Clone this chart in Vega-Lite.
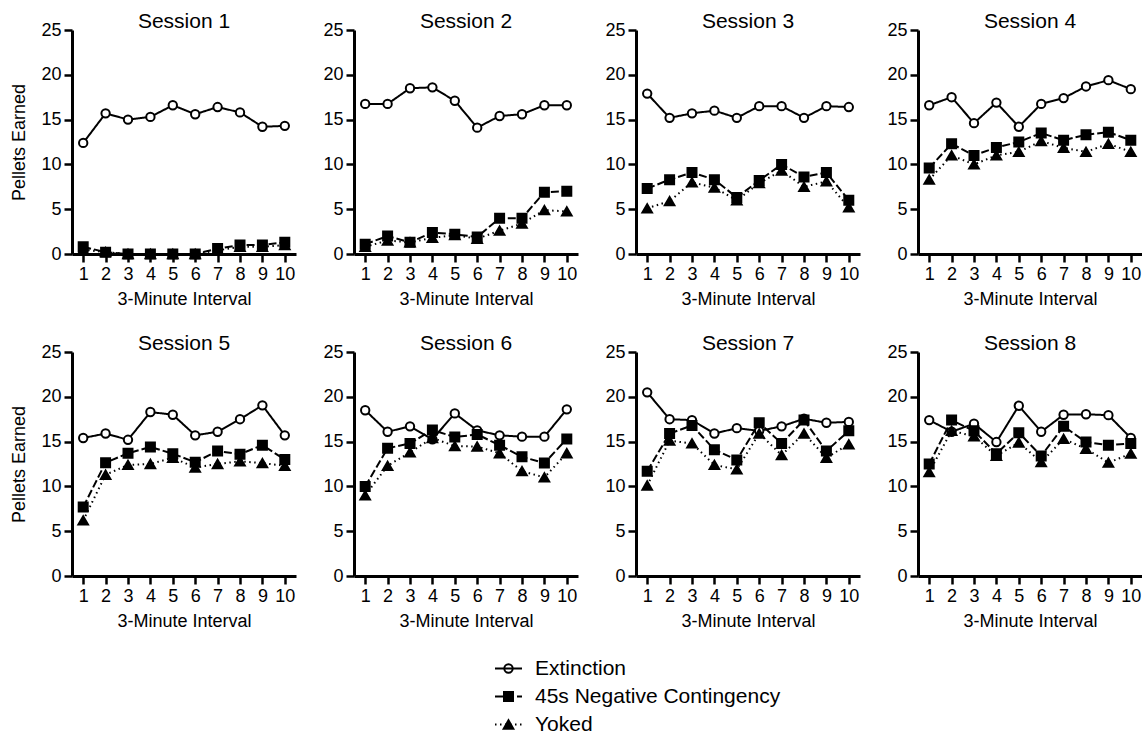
{
  "$schema": "https://vega.github.io/schema/vega-lite/v6.json",
  "background": "white",
  "padding": {"left": 10, "top": 11, "right": 0, "bottom": 0},
  "datasets": {
    "d": [
      {"session":1,"interval":1,"Extinction":12.4,"45s Negative Contingency":0.8,"Yoked":0.5},
      {"session":1,"interval":2,"Extinction":15.7,"45s Negative Contingency":0.2,"Yoked":0.2},
      {"session":1,"interval":3,"Extinction":15.0,"45s Negative Contingency":0,"Yoked":0},
      {"session":1,"interval":4,"Extinction":15.3,"45s Negative Contingency":0,"Yoked":0},
      {"session":1,"interval":5,"Extinction":16.6,"45s Negative Contingency":0,"Yoked":0},
      {"session":1,"interval":6,"Extinction":15.6,"45s Negative Contingency":0,"Yoked":0},
      {"session":1,"interval":7,"Extinction":16.4,"45s Negative Contingency":0.6,"Yoked":0.4},
      {"session":1,"interval":8,"Extinction":15.8,"45s Negative Contingency":1.0,"Yoked":0.8},
      {"session":1,"interval":9,"Extinction":14.2,"45s Negative Contingency":1.0,"Yoked":0.8},
      {"session":1,"interval":10,"Extinction":14.3,"45s Negative Contingency":1.3,"Yoked":1.0},
      {"session":2,"interval":1,"Extinction":16.75,"45s Negative Contingency":1.1,"Yoked":0.8},
      {"session":2,"interval":2,"Extinction":16.75,"45s Negative Contingency":2.0,"Yoked":1.5},
      {"session":2,"interval":3,"Extinction":18.5,"45s Negative Contingency":1.3,"Yoked":1.3},
      {"session":2,"interval":4,"Extinction":18.6,"45s Negative Contingency":2.4,"Yoked":1.8},
      {"session":2,"interval":5,"Extinction":17.1,"45s Negative Contingency":2.2,"Yoked":2.1},
      {"session":2,"interval":6,"Extinction":14.1,"45s Negative Contingency":1.9,"Yoked":1.7},
      {"session":2,"interval":7,"Extinction":15.4,"45s Negative Contingency":4.0,"Yoked":2.6},
      {"session":2,"interval":8,"Extinction":15.6,"45s Negative Contingency":4.0,"Yoked":3.4},
      {"session":2,"interval":9,"Extinction":16.6,"45s Negative Contingency":6.9,"Yoked":4.9},
      {"session":2,"interval":10,"Extinction":16.6,"45s Negative Contingency":7.0,"Yoked":4.75},
      {"session":3,"interval":1,"Extinction":17.9,"45s Negative Contingency":7.3,"Yoked":5.1},
      {"session":3,"interval":2,"Extinction":15.2,"45s Negative Contingency":8.3,"Yoked":5.9},
      {"session":3,"interval":3,"Extinction":15.7,"45s Negative Contingency":9.1,"Yoked":8.0},
      {"session":3,"interval":4,"Extinction":16.0,"45s Negative Contingency":8.3,"Yoked":7.4},
      {"session":3,"interval":5,"Extinction":15.2,"45s Negative Contingency":6.3,"Yoked":6.0},
      {"session":3,"interval":6,"Extinction":16.5,"45s Negative Contingency":8.2,"Yoked":7.9},
      {"session":3,"interval":7,"Extinction":16.5,"45s Negative Contingency":10.0,"Yoked":9.3},
      {"session":3,"interval":8,"Extinction":15.2,"45s Negative Contingency":8.6,"Yoked":7.5},
      {"session":3,"interval":9,"Extinction":16.5,"45s Negative Contingency":9.1,"Yoked":8.1},
      {"session":3,"interval":10,"Extinction":16.4,"45s Negative Contingency":6.0,"Yoked":5.2},
      {"session":4,"interval":1,"Extinction":16.6,"45s Negative Contingency":9.6,"Yoked":8.3},
      {"session":4,"interval":2,"Extinction":17.5,"45s Negative Contingency":12.3,"Yoked":11.0},
      {"session":4,"interval":3,"Extinction":14.6,"45s Negative Contingency":11.0,"Yoked":10.0},
      {"session":4,"interval":4,"Extinction":16.9,"45s Negative Contingency":11.9,"Yoked":11.0},
      {"session":4,"interval":5,"Extinction":14.2,"45s Negative Contingency":12.5,"Yoked":11.4},
      {"session":4,"interval":6,"Extinction":16.75,"45s Negative Contingency":13.5,"Yoked":12.6},
      {"session":4,"interval":7,"Extinction":17.4,"45s Negative Contingency":12.7,"Yoked":11.85},
      {"session":4,"interval":8,"Extinction":18.7,"45s Negative Contingency":13.3,"Yoked":11.4},
      {"session":4,"interval":9,"Extinction":19.4,"45s Negative Contingency":13.6,"Yoked":12.3},
      {"session":4,"interval":10,"Extinction":18.4,"45s Negative Contingency":12.7,"Yoked":11.4},
      {"session":5,"interval":1,"Extinction":15.4,"45s Negative Contingency":7.7,"Yoked":6.2},
      {"session":5,"interval":2,"Extinction":15.9,"45s Negative Contingency":12.65,"Yoked":11.3},
      {"session":5,"interval":3,"Extinction":15.2,"45s Negative Contingency":13.7,"Yoked":12.4},
      {"session":5,"interval":4,"Extinction":18.3,"45s Negative Contingency":14.4,"Yoked":12.5},
      {"session":5,"interval":5,"Extinction":18.0,"45s Negative Contingency":13.65,"Yoked":13.2},
      {"session":5,"interval":6,"Extinction":15.7,"45s Negative Contingency":12.7,"Yoked":12.1},
      {"session":5,"interval":7,"Extinction":16.1,"45s Negative Contingency":13.95,"Yoked":12.5},
      {"session":5,"interval":8,"Extinction":17.5,"45s Negative Contingency":13.6,"Yoked":12.8},
      {"session":5,"interval":9,"Extinction":19.05,"45s Negative Contingency":14.6,"Yoked":12.6},
      {"session":5,"interval":10,"Extinction":15.7,"45s Negative Contingency":13.0,"Yoked":12.3},
      {"session":6,"interval":1,"Extinction":18.5,"45s Negative Contingency":10.0,"Yoked":9.0},
      {"session":6,"interval":2,"Extinction":16.1,"45s Negative Contingency":14.25,"Yoked":12.3},
      {"session":6,"interval":3,"Extinction":16.7,"45s Negative Contingency":14.8,"Yoked":13.8},
      {"session":6,"interval":4,"Extinction":15.25,"45s Negative Contingency":16.3,"Yoked":15.4},
      {"session":6,"interval":5,"Extinction":18.15,"45s Negative Contingency":15.5,"Yoked":14.5},
      {"session":6,"interval":6,"Extinction":16.25,"45s Negative Contingency":15.8,"Yoked":14.45},
      {"session":6,"interval":7,"Extinction":15.7,"45s Negative Contingency":14.6,"Yoked":13.7},
      {"session":6,"interval":8,"Extinction":15.55,"45s Negative Contingency":13.3,"Yoked":11.7},
      {"session":6,"interval":9,"Extinction":15.55,"45s Negative Contingency":12.6,"Yoked":11.0},
      {"session":6,"interval":10,"Extinction":18.6,"45s Negative Contingency":15.3,"Yoked":13.7},
      {"session":7,"interval":1,"Extinction":20.5,"45s Negative Contingency":11.7,"Yoked":10.1},
      {"session":7,"interval":2,"Extinction":17.5,"45s Negative Contingency":15.9,"Yoked":15.1},
      {"session":7,"interval":3,"Extinction":17.4,"45s Negative Contingency":16.8,"Yoked":14.8},
      {"session":7,"interval":4,"Extinction":15.9,"45s Negative Contingency":14.1,"Yoked":12.4},
      {"session":7,"interval":5,"Extinction":16.5,"45s Negative Contingency":12.95,"Yoked":11.9},
      {"session":7,"interval":6,"Extinction":16.2,"45s Negative Contingency":17.1,"Yoked":15.9},
      {"session":7,"interval":7,"Extinction":16.7,"45s Negative Contingency":14.8,"Yoked":13.5},
      {"session":7,"interval":8,"Extinction":17.55,"45s Negative Contingency":17.4,"Yoked":15.9},
      {"session":7,"interval":9,"Extinction":17.1,"45s Negative Contingency":13.95,"Yoked":13.2},
      {"session":7,"interval":10,"Extinction":17.2,"45s Negative Contingency":16.2,"Yoked":14.7},
      {"session":8,"interval":1,"Extinction":17.4,"45s Negative Contingency":12.5,"Yoked":11.6},
      {"session":8,"interval":2,"Extinction":16.1,"45s Negative Contingency":17.4,"Yoked":16.2},
      {"session":8,"interval":3,"Extinction":17.0,"45s Negative Contingency":16.2,"Yoked":15.6},
      {"session":8,"interval":4,"Extinction":14.95,"45s Negative Contingency":13.65,"Yoked":13.4},
      {"session":8,"interval":5,"Extinction":19.0,"45s Negative Contingency":16.0,"Yoked":14.9},
      {"session":8,"interval":6,"Extinction":16.1,"45s Negative Contingency":13.4,"Yoked":12.7},
      {"session":8,"interval":7,"Extinction":18.0,"45s Negative Contingency":16.7,"Yoked":15.3},
      {"session":8,"interval":8,"Extinction":18.05,"45s Negative Contingency":14.95,"Yoked":14.2},
      {"session":8,"interval":9,"Extinction":17.95,"45s Negative Contingency":14.6,"Yoked":12.65},
      {"session":8,"interval":10,"Extinction":15.4,"45s Negative Contingency":14.8,"Yoked":13.65}
    ]
  },
  "data": {"name": "d"},
  "transform": [
    {"fold": ["Extinction", "45s Negative Contingency", "Yoked"], "as": ["group", "pellets"]}
  ],
  "columns": 4,
  "spacing": {"row": 98, "column": 58},
  "bounds": "flush",
  "concat": [
    {"title": "Session 1", "width": 224, "height": 224, "transform": [{"filter": "datum.session == 1"}],
     "encoding": {
       "x": {"field": "interval", "type": "quantitative", "scale": {"domain": [0.5, 10.5], "nice": false, "zero": false}, "axis": {"values": [1,2,3,4,5,6,7,8,9,10], "title": "3-Minute Interval"}},
       "y": {"field": "pellets", "type": "quantitative", "scale": {"domain": [0, 25], "nice": false}, "axis": {"values": [0,5,10,15,20,25], "title": "Pellets Earned"}}
     },
     "layer": [
       {"mark": {"type": "line", "color": "black", "strokeWidth": 2},
        "encoding": {"strokeDash": {"field": "group", "type": "nominal", "sort": ["Extinction", "45s Negative Contingency", "Yoked"], "scale": {"range": [[1, 0], [8, 3], [1.5, 3.5]]},
          "legend": {"orient": "none", "legendX": 426, "legendY": 628, "title": null, "symbolType": "M-2.7,0H2.7", "symbolSize": 100, "symbolStrokeWidth": 2, "symbolStrokeColor": "black", "labelFontSize": 21, "labelFont": "Liberation Sans", "labelColor": "black", "labelOffset": 16, "labelLimit": 500, "rowPadding": 6, "zindex": 2}}}},
       {"mark": {"type": "point", "filled": true, "strokeWidth": 2, "opacity": 1},
        "encoding": {
          "shape": {"field": "group", "type": "nominal", "scale": {"domain": ["Extinction", "45s Negative Contingency", "Yoked"], "range": ["circle", "square", "triangle-up"]},
            "legend": {"orient": "none", "legendX": 426, "legendY": 628, "title": null, "symbolStrokeWidth": 2, "labelFontSize": 21, "labelFont": "Liberation Sans", "labelOpacity": 0, "labelOffset": 16, "labelLimit": 500, "rowPadding": 6, "zindex": 1}},
          "fill": {"field": "group", "type": "nominal", "scale": {"domain": ["Extinction", "45s Negative Contingency", "Yoked"], "range": ["white", "black", "black"]},
            "legend": {"orient": "none", "legendX": 426, "legendY": 628, "title": null, "symbolStrokeWidth": 2, "labelFontSize": 21, "labelFont": "Liberation Sans", "labelOpacity": 0, "labelOffset": 16, "labelLimit": 500, "rowPadding": 6, "zindex": 1}},
          "stroke": {"field": "group", "type": "nominal", "scale": {"domain": ["Extinction", "45s Negative Contingency", "Yoked"], "range": ["black", "black", "black"]},
            "legend": {"orient": "none", "legendX": 426, "legendY": 628, "title": null, "symbolStrokeWidth": 2, "labelFontSize": 21, "labelFont": "Liberation Sans", "labelOpacity": 0, "labelOffset": 16, "labelLimit": 500, "rowPadding": 6, "zindex": 1}},
          "size": {"field": "group", "type": "nominal", "scale": {"domain": ["Extinction", "45s Negative Contingency", "Yoked"], "range": [70, 92, 100]},
            "legend": {"orient": "none", "legendX": 426, "legendY": 628, "title": null, "symbolStrokeWidth": 2, "labelFontSize": 21, "labelFont": "Liberation Sans", "labelOpacity": 0, "labelOffset": 16, "labelLimit": 500, "rowPadding": 6, "zindex": 1}}
        }}
     ]},
    {"title": "Session 2", "width": 224, "height": 224, "transform": [{"filter": "datum.session == 2"}],
     "encoding": {
       "x": {"field": "interval", "type": "quantitative", "scale": {"domain": [0.5, 10.5], "nice": false, "zero": false}, "axis": {"values": [1,2,3,4,5,6,7,8,9,10], "title": "3-Minute Interval"}},
       "y": {"field": "pellets", "type": "quantitative", "scale": {"domain": [0, 25], "nice": false}, "axis": {"values": [0,5,10,15,20,25], "title": null}}
     },
     "layer": [
       {"mark": {"type": "line", "color": "black", "strokeWidth": 2}, "encoding": {"strokeDash": {"field": "group", "type": "nominal", "sort": ["Extinction", "45s Negative Contingency", "Yoked"]}}},
       {"mark": {"type": "point", "filled": true, "strokeWidth": 2, "opacity": 1},
        "encoding": {"shape": {"field": "group", "type": "nominal"}, "fill": {"field": "group", "type": "nominal"}, "stroke": {"field": "group", "type": "nominal"}, "size": {"field": "group", "type": "nominal"}}}
     ]},
    {"title": "Session 3", "width": 224, "height": 224, "transform": [{"filter": "datum.session == 3"}],
     "encoding": {
       "x": {"field": "interval", "type": "quantitative", "scale": {"domain": [0.5, 10.5], "nice": false, "zero": false}, "axis": {"values": [1,2,3,4,5,6,7,8,9,10], "title": "3-Minute Interval"}},
       "y": {"field": "pellets", "type": "quantitative", "scale": {"domain": [0, 25], "nice": false}, "axis": {"values": [0,5,10,15,20,25], "title": null}}
     },
     "layer": [
       {"mark": {"type": "line", "color": "black", "strokeWidth": 2}, "encoding": {"strokeDash": {"field": "group", "type": "nominal", "sort": ["Extinction", "45s Negative Contingency", "Yoked"]}}},
       {"mark": {"type": "point", "filled": true, "strokeWidth": 2, "opacity": 1},
        "encoding": {"shape": {"field": "group", "type": "nominal"}, "fill": {"field": "group", "type": "nominal"}, "stroke": {"field": "group", "type": "nominal"}, "size": {"field": "group", "type": "nominal"}}}
     ]},
    {"title": "Session 4", "width": 224, "height": 224, "transform": [{"filter": "datum.session == 4"}],
     "encoding": {
       "x": {"field": "interval", "type": "quantitative", "scale": {"domain": [0.5, 10.5], "nice": false, "zero": false}, "axis": {"values": [1,2,3,4,5,6,7,8,9,10], "title": "3-Minute Interval"}},
       "y": {"field": "pellets", "type": "quantitative", "scale": {"domain": [0, 25], "nice": false}, "axis": {"values": [0,5,10,15,20,25], "title": null}}
     },
     "layer": [
       {"mark": {"type": "line", "color": "black", "strokeWidth": 2}, "encoding": {"strokeDash": {"field": "group", "type": "nominal", "sort": ["Extinction", "45s Negative Contingency", "Yoked"]}}},
       {"mark": {"type": "point", "filled": true, "strokeWidth": 2, "opacity": 1},
        "encoding": {"shape": {"field": "group", "type": "nominal"}, "fill": {"field": "group", "type": "nominal"}, "stroke": {"field": "group", "type": "nominal"}, "size": {"field": "group", "type": "nominal"}}}
     ]},
    {"title": "Session 5", "width": 224, "height": 224, "transform": [{"filter": "datum.session == 5"}],
     "encoding": {
       "x": {"field": "interval", "type": "quantitative", "scale": {"domain": [0.5, 10.5], "nice": false, "zero": false}, "axis": {"values": [1,2,3,4,5,6,7,8,9,10], "title": "3-Minute Interval"}},
       "y": {"field": "pellets", "type": "quantitative", "scale": {"domain": [0, 25], "nice": false}, "axis": {"values": [0,5,10,15,20,25], "title": "Pellets Earned"}}
     },
     "layer": [
       {"mark": {"type": "line", "color": "black", "strokeWidth": 2}, "encoding": {"strokeDash": {"field": "group", "type": "nominal", "sort": ["Extinction", "45s Negative Contingency", "Yoked"]}}},
       {"mark": {"type": "point", "filled": true, "strokeWidth": 2, "opacity": 1},
        "encoding": {"shape": {"field": "group", "type": "nominal"}, "fill": {"field": "group", "type": "nominal"}, "stroke": {"field": "group", "type": "nominal"}, "size": {"field": "group", "type": "nominal"}}}
     ]},
    {"title": "Session 6", "width": 224, "height": 224, "transform": [{"filter": "datum.session == 6"}],
     "encoding": {
       "x": {"field": "interval", "type": "quantitative", "scale": {"domain": [0.5, 10.5], "nice": false, "zero": false}, "axis": {"values": [1,2,3,4,5,6,7,8,9,10], "title": "3-Minute Interval"}},
       "y": {"field": "pellets", "type": "quantitative", "scale": {"domain": [0, 25], "nice": false}, "axis": {"values": [0,5,10,15,20,25], "title": null}}
     },
     "layer": [
       {"mark": {"type": "line", "color": "black", "strokeWidth": 2}, "encoding": {"strokeDash": {"field": "group", "type": "nominal", "sort": ["Extinction", "45s Negative Contingency", "Yoked"]}}},
       {"mark": {"type": "point", "filled": true, "strokeWidth": 2, "opacity": 1},
        "encoding": {"shape": {"field": "group", "type": "nominal"}, "fill": {"field": "group", "type": "nominal"}, "stroke": {"field": "group", "type": "nominal"}, "size": {"field": "group", "type": "nominal"}}}
     ]},
    {"title": "Session 7", "width": 224, "height": 224, "transform": [{"filter": "datum.session == 7"}],
     "encoding": {
       "x": {"field": "interval", "type": "quantitative", "scale": {"domain": [0.5, 10.5], "nice": false, "zero": false}, "axis": {"values": [1,2,3,4,5,6,7,8,9,10], "title": "3-Minute Interval"}},
       "y": {"field": "pellets", "type": "quantitative", "scale": {"domain": [0, 25], "nice": false}, "axis": {"values": [0,5,10,15,20,25], "title": null}}
     },
     "layer": [
       {"mark": {"type": "line", "color": "black", "strokeWidth": 2}, "encoding": {"strokeDash": {"field": "group", "type": "nominal", "sort": ["Extinction", "45s Negative Contingency", "Yoked"]}}},
       {"mark": {"type": "point", "filled": true, "strokeWidth": 2, "opacity": 1},
        "encoding": {"shape": {"field": "group", "type": "nominal"}, "fill": {"field": "group", "type": "nominal"}, "stroke": {"field": "group", "type": "nominal"}, "size": {"field": "group", "type": "nominal"}}}
     ]},
    {"title": "Session 8", "width": 224, "height": 224, "transform": [{"filter": "datum.session == 8"}],
     "encoding": {
       "x": {"field": "interval", "type": "quantitative", "scale": {"domain": [0.5, 10.5], "nice": false, "zero": false}, "axis": {"values": [1,2,3,4,5,6,7,8,9,10], "title": "3-Minute Interval"}},
       "y": {"field": "pellets", "type": "quantitative", "scale": {"domain": [0, 25], "nice": false}, "axis": {"values": [0,5,10,15,20,25], "title": null}}
     },
     "layer": [
       {"mark": {"type": "line", "color": "black", "strokeWidth": 2}, "encoding": {"strokeDash": {"field": "group", "type": "nominal", "sort": ["Extinction", "45s Negative Contingency", "Yoked"]}}},
       {"mark": {"type": "point", "filled": true, "strokeWidth": 2, "opacity": 1},
        "encoding": {"shape": {"field": "group", "type": "nominal"}, "fill": {"field": "group", "type": "nominal"}, "stroke": {"field": "group", "type": "nominal"}, "size": {"field": "group", "type": "nominal"}}}
     ]}
  ],
  "config": {
    "font": "Liberation Sans",
    "view": {"stroke": null},
    "axis": {"grid": false, "domainColor": "black", "domainWidth": 3, "tickColor": "black", "tickWidth": 2.5, "tickSize": 8, "labelFont": "Liberation Sans", "labelFontSize": 18, "labelColor": "black", "labelPadding": 3, "labelFlush": false, "labelOverlap": false, "titleFont": "Liberation Sans", "titleFontSize": 18, "titleFontWeight": "normal", "titleColor": "black"},
    "axisX": {"labelAngle": 0, "titlePadding": 7},
    "axisY": {"titlePadding": 12},
    "title": {"font": "Liberation Sans", "fontSize": 21, "fontWeight": "normal", "color": "black", "anchor": "middle", "offset": -11}
  }
}
